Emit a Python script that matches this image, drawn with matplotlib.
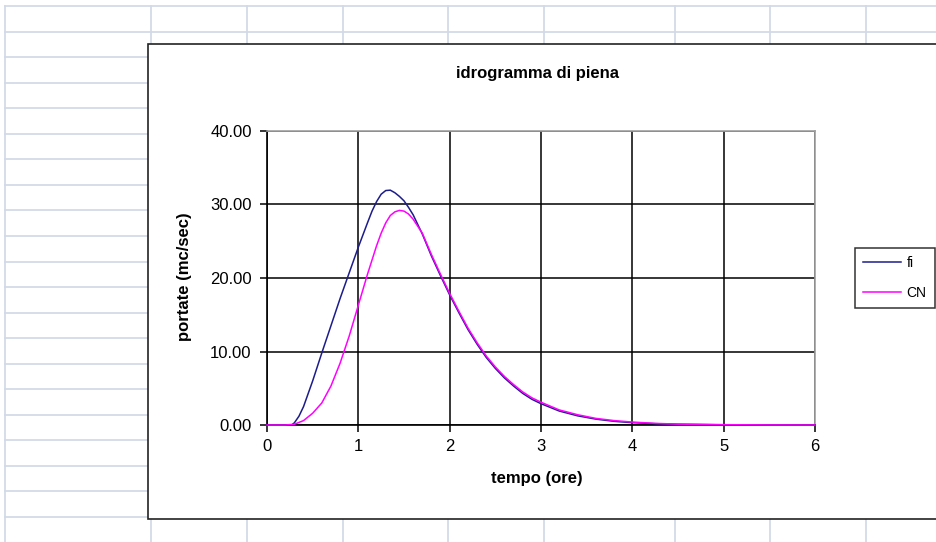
import matplotlib
matplotlib.use("Agg")
import matplotlib.pyplot as plt
from matplotlib.lines import Line2D
from matplotlib.patches import Rectangle

plt.rcParams['font.family'] = ['Liberation Sans', 'DejaVu Sans']

# ---- data ----
t_fi = [0, 0.1, 0.2, 0.27, 0.3, 0.35, 0.4, 0.5, 0.6, 0.7, 0.8, 0.9, 1.0, 1.1, 1.15, 1.2,
        1.25, 1.3, 1.35, 1.4, 1.45, 1.5, 1.55, 1.6, 1.7, 1.8, 1.9, 2.0, 2.1, 2.2, 2.3, 2.4,
        2.5, 2.6, 2.7, 2.8, 2.9, 3.0, 3.2, 3.4, 3.6, 3.8, 4.0, 4.25, 4.5, 5.0, 5.5, 6.0]
q_fi = [0, 0, 0, 0, 0.3, 1.2, 2.5, 6.0, 9.8, 13.5, 17.2, 20.7, 24.2, 27.5, 29.1, 30.4,
        31.4, 31.9, 31.95, 31.6, 31.1, 30.5, 29.6, 28.6, 26.0, 23.0, 20.3, 17.7, 15.3, 13.0,
        11.0, 9.2, 7.7, 6.4, 5.3, 4.3, 3.5, 2.9, 1.9, 1.25, 0.8, 0.5, 0.32, 0.18, 0.1, 0.03,
        0.01, 0.0]

t_cn = [0, 0.1, 0.2, 0.3, 0.4, 0.5, 0.6, 0.7, 0.8, 0.9, 1.0, 1.1, 1.2, 1.25, 1.3, 1.35,
        1.4, 1.45, 1.5, 1.55, 1.6, 1.7, 1.8, 1.9, 2.0, 2.1, 2.2, 2.3, 2.4, 2.5, 2.6, 2.7,
        2.8, 2.9, 3.0, 3.2, 3.4, 3.6, 3.8, 4.0, 4.25, 4.5, 5.0, 5.5, 6.0]
q_cn = [0, 0, 0, 0.1, 0.6, 1.6, 3.0, 5.3, 8.4, 12.1, 16.3, 20.5, 24.4, 26.1, 27.5, 28.5,
        29.0, 29.2, 29.1, 28.7, 28.0, 26.1, 23.2, 20.5, 17.9, 15.5, 13.2, 11.2, 9.4, 7.9,
        6.6, 5.5, 4.5, 3.7, 3.1, 2.05, 1.4, 0.9, 0.6, 0.4, 0.22, 0.12, 0.04, 0.01, 0.0]

series_labels = ["fi", "CN"]
title = "idrogramma di piena"
xlabel = "tempo (ore)"
ylabel = "portate (mc/sec)"

W, H = 937, 542
fig = plt.figure(figsize=(W / 100, H / 100), dpi=100)
fig.patch.set_facecolor('white')

def fx(px):
    return px / W

def fy(py):
    return 1 - py / H

# spreadsheet grid
gridc = '#d3dae7'
rows = [6 + 25.55 * k for k in range(22)]
cols = [5, 151, 247, 343, 448, 544, 675, 770, 866]
for r in rows:
    fig.add_artist(Line2D([fx(5), 1], [fy(r), fy(r)], color=gridc, lw=1.3, zorder=0))
for c in cols:
    fig.add_artist(Line2D([fx(c), fx(c)], [fy(6), 0], color=gridc, lw=1.3, zorder=0))

# chart frame
fig.add_artist(Rectangle((fx(148), fy(519)), fx(1000) - fx(148), fy(44) - fy(519),
                         facecolor='white', edgecolor='#222222', lw=1.2, zorder=1))

ax = fig.add_axes([fx(267), fy(425), fx(815) - fx(267), fy(131) - fy(425)], zorder=2)
ax.set_facecolor('white')
ax.plot(t_fi, q_fi, color='#1c1c8a', lw=1.1, label=series_labels[0], zorder=3, clip_on=False)
ax.plot(t_cn, q_cn, color='#ff00ff', lw=1.1, label=series_labels[1], zorder=3, clip_on=False)

ax.set_xlim(0, 6)
ax.set_ylim(0, 40)
ax.set_xticks(range(0, 7))
ax.set_yticks([0, 10, 20, 30, 40])
ax.set_yticklabels([f"{v:.2f}" for v in [0, 10, 20, 30, 40]])
ax.tick_params(axis='both', direction='out', length=5, width=1.1, labelsize=12, color='black')
ax.tick_params(axis='y', pad=6)
ax.tick_params(axis='x', pad=5)
ax.set_axisbelow(True)
ax.grid(True, color='black', lw=1.1)
for s in ['left', 'bottom']:
    ax.spines[s].set_color('black')
    ax.spines[s].set_linewidth(1.2)
for s in ['top', 'right']:
    ax.spines[s].set_color('#a0a0a0')
    ax.spines[s].set_linewidth(1.2)

fig.text(fx(538), fy(73), title, ha='center', va='center', fontsize=12, fontweight='bold')
fig.text(fx(537), fy(478), xlabel, ha='center', va='center', fontsize=12, fontweight='bold')
fig.text(fx(185), fy(277), ylabel, ha='center', va='center', fontsize=12, fontweight='bold',
         rotation=90)

leg = fig.legend(loc='upper left', bbox_to_anchor=(fx(855), fy(248)), borderaxespad=0,
                 fontsize=10, frameon=True, fancybox=False, handlelength=2.7,
                 handletextpad=0.4, labelspacing=1.1, borderpad=0.6)
leg.get_frame().set_edgecolor('black')
leg.get_frame().set_linewidth(1.1)
leg.set_zorder(5)

fig.savefig("out.png", dpi=100)
